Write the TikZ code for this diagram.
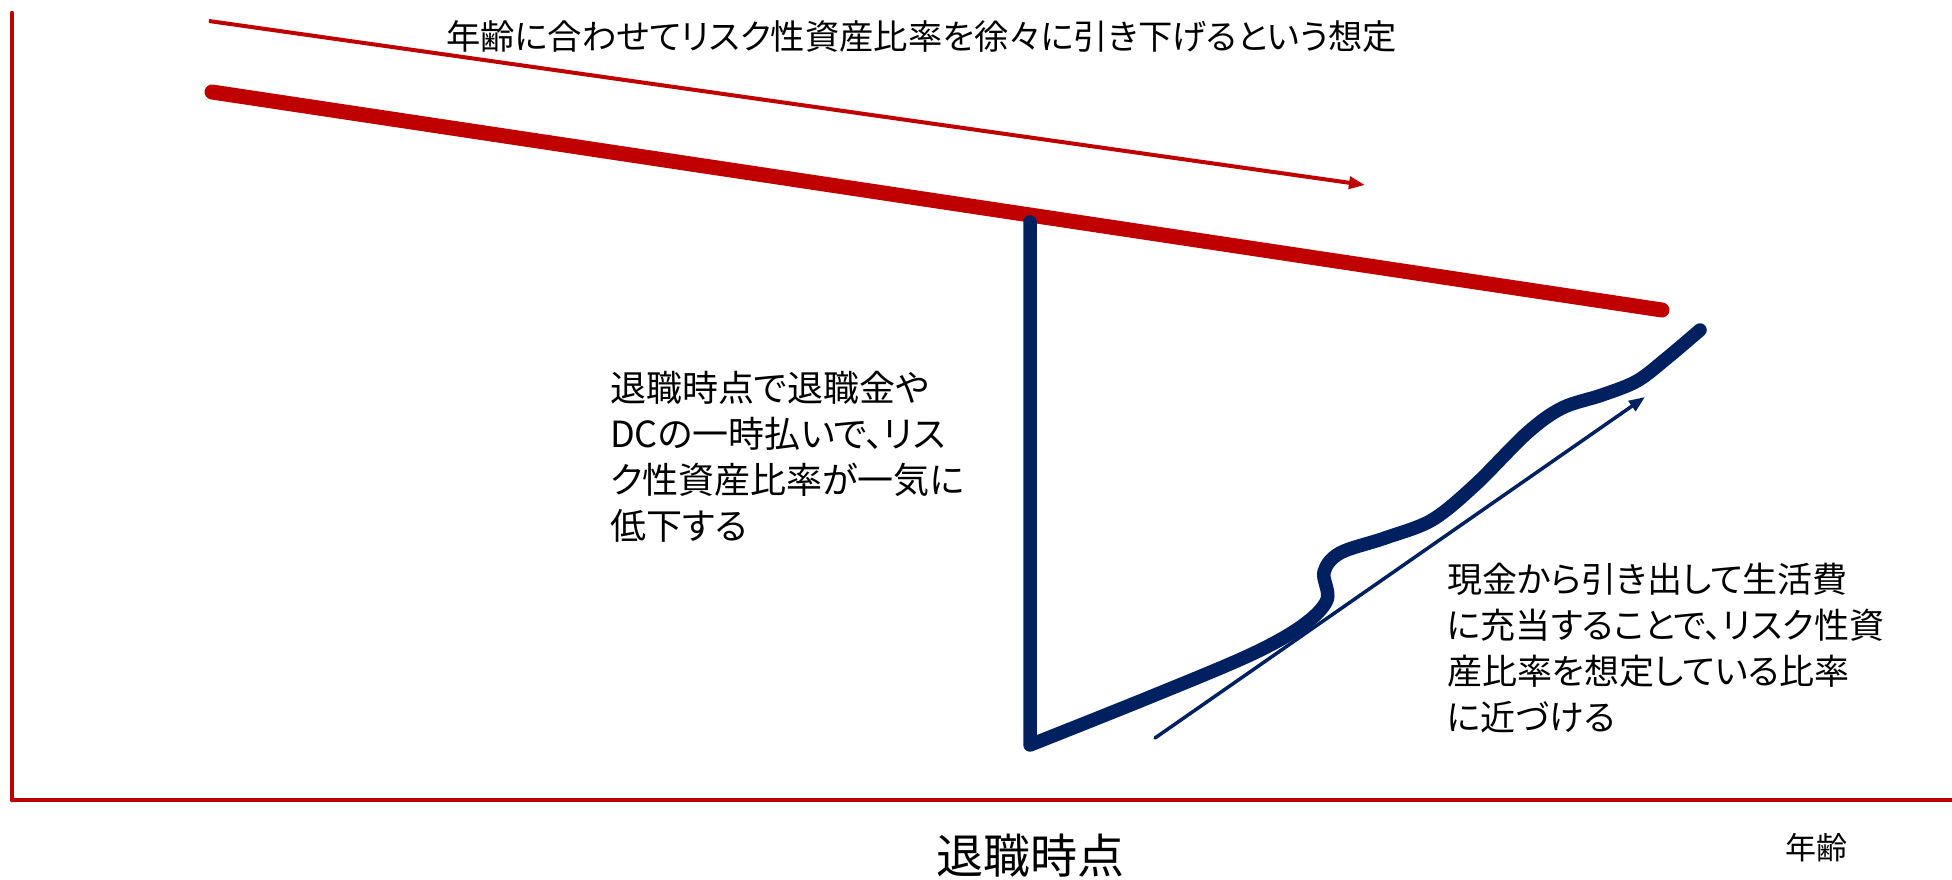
\documentclass[tikz,border=0pt]{standalone}
\usepackage{fontspec}
\setmainfont{Noto Sans CJK JP}[RawFeature=+palt]
\usetikzlibrary{arrows.meta}
\definecolor{ored}{HTML}{C00000}
\definecolor{onavy}{HTML}{002060}
\begin{document}
\begin{tikzpicture}[x=1pt,y=-1pt,
  axisline/.style={draw=ored,line width=4.5pt},
  thickred/.style={draw=ored,line width=15pt,line cap=round},
  thinred/.style={draw=ored,line width=4pt,-{Triangle[length=16pt,width=12pt]}},
  thickblue/.style={draw=onavy,line width=13.5pt,line cap=round,line join=round},
  thinblue/.style={draw=onavy,line width=3.5pt,line cap=round,-{Triangle[length=16pt,width=12pt]}},
  lbl/.style={inner sep=0pt,align=left,text=black},
]
\useasboundingbox (0,0) rectangle (1952,879);
% axes
\coordinate (ytop) at (12,13);
\coordinate (orig) at (12,800);
\coordinate (xend) at (1952,800);
\draw[axisline,line cap=round] (ytop) -- (orig);
\draw[axisline] (orig) -- (xend);
% red lines
\coordinate (ra1) at (209,21);
\coordinate (ra2) at (1365,185);
\draw[thinred] (ra1) -- (ra2);
\coordinate (rl1) at (212,92);
\coordinate (rl2) at (1662,310);
\draw[thickred] (rl1) -- (rl2);
% blue path
\coordinate (bt) at (1030,222);
\coordinate (bb) at (1030,745);
\draw[thickblue] (bt) -- (bb) -- plot[smooth,tension=0.55] coordinates {
  (1030,745) (1150,697) (1250,655) (1302,626) (1327,600) (1324,572) (1340,553)
  (1385,538) (1432,520) (1475,485) (1527,433) (1562,408) (1602,395) (1637,381)
  (1667,358) (1700,330)};
\coordinate (ba1) at (1155,738);
\coordinate (ba2) at (1645,397);
\draw[thinblue] (ba1) -- (ba2);
% texts
\node[lbl,anchor=north west,font=\fontsize{34.3}{34.3}\selectfont] (ttop) at (446,20)
  {年齢に合わせてリスク性資産比率を徐々に引き下げるという想定};
\node[lbl,anchor=north west,font=\fontsize{36}{46}\selectfont] (tleft) at (610,371)
  {退職時点で退職金や\\DCの一時払いで、リス\\ク性資産比率が一気に\\低下する};
\node[lbl,anchor=north west,font=\fontsize{35}{46}\selectfont] (tright) at (1447,563)
  {現金から引き出して生活費\\に充当することで、リスク性資\\産比率を想定している比率\\に近づける};
\node[lbl,font=\fontsize{47}{47}\selectfont] (tret) at (1030,856) {退職時点};
\node[lbl,font=\fontsize{31}{31}\selectfont] (tage) at (1816,848) {年齢};
\end{tikzpicture}
\end{document}
